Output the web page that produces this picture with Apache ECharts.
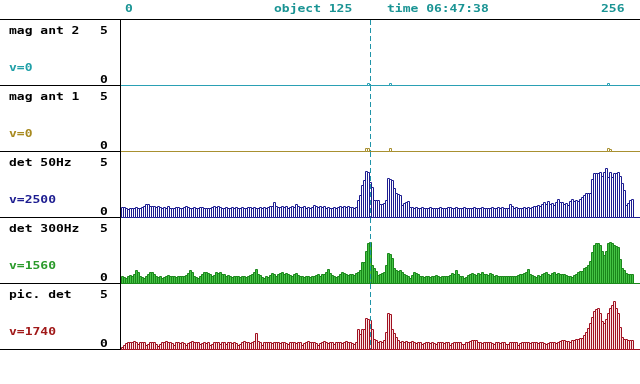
<!DOCTYPE html>
<html>
<head>
<meta charset="utf-8">
<script src="https://cdn.jsdelivr.net/npm/echarts@6/dist/echarts.min.js"></script>
<style>html,body{margin:0;padding:0;background:#fff;}#c{width:640px;height:384px;}</style>
</head>
<body>
<div id="c"></div>
<script>
// ---- data ----
var binCount = 256;
var categories = [];
for (var b = 0; b < binCount; b++) categories.push(String(b));

var headerTexts = ['0', 'object 125', 'time 06:47:38', '256'];
var panelNames = ['mag ant 2', 'mag ant 1', 'det 50Hz', 'det 300Hz', 'pic. det'];
var panelGains = ['v=0', 'v=0', 'v=2500', 'v=1560', 'v=1740'];
var yTickLabels = ['5', '0'];
var markerBin = 124;

// sparse channels: [bin, value]
var magAnt2Peaks = [[123, 0.15], [134, 0.15], [243, 0.15]];
var magAnt1Peaks = [[122, 0.2], [123, 0.2], [134, 0.2], [243, 0.2], [244, 0.15]];

var det50Hz = [
0.75,0.75,0.7,0.6,0.65,0.7,0.7,0.75,0.7,0.65,0.75,0.8,0.95,0.95,0.8,0.8,0.8,0.75,0.8,0.75,
0.7,0.75,0.7,0.8,0.7,0.65,0.7,0.75,0.75,0.7,0.7,0.75,0.8,0.75,0.7,0.7,0.75,0.7,0.7,0.75,
0.75,0.7,0.7,0.7,0.7,0.75,0.8,0.75,0.8,0.75,0.7,0.7,0.75,0.7,0.7,0.75,0.7,0.75,0.7,0.7,
0.75,0.7,0.7,0.75,0.75,0.7,0.75,0.7,0.7,0.75,0.7,0.75,0.7,0.75,0.8,0.8,1.1,0.8,0.75,0.75,
0.8,0.75,0.8,0.7,0.75,0.8,0.75,0.95,0.8,0.75,0.75,0.8,0.7,0.75,0.7,0.75,0.9,0.8,0.75,0.8,
0.75,0.8,0.7,0.75,0.7,0.7,0.75,0.7,0.75,0.8,0.75,0.8,0.75,0.8,0.75,0.75,0.7,0.75,1.3,1.65,
2.4,2.8,3.5,3.4,2.65,2.25,1.3,1.3,1.3,1.0,1.0,1.05,1.3,2.95,2.9,2.8,2.2,1.8,1.75,1.65,
0.9,1.05,1.15,1.2,0.75,0.75,0.7,0.75,0.7,0.7,0.75,0.7,0.7,0.7,0.75,0.7,0.7,0.7,0.7,0.75,
0.7,0.7,0.7,0.75,0.75,0.7,0.7,0.75,0.7,0.7,0.7,0.75,0.7,0.7,0.7,0.7,0.75,0.7,0.7,0.7,
0.75,0.7,0.7,0.7,0.7,0.75,0.7,0.7,0.75,0.7,0.75,0.7,0.7,0.7,1.0,0.8,0.7,0.75,0.7,0.7,
0.7,0.75,0.7,0.75,0.7,0.75,0.8,0.85,0.9,0.8,1.0,1.15,0.95,1.2,1.0,1.05,0.9,1.15,1.35,1.1,
1.15,1.0,1.05,0.9,1.2,1.35,1.2,1.3,1.25,1.35,1.5,1.65,1.8,1.8,1.85,2.9,3.35,3.35,3.35,3.4,
3.1,3.4,3.7,3.0,3.4,3.0,3.35,3.35,3.4,3.1,2.6,2.05,0.9,1.05,1.3,1.35
];

var det300Hz = [
0.5,0.45,0.4,0.55,0.6,0.5,0.7,1.0,0.8,0.55,0.45,0.4,0.55,0.7,0.8,0.8,0.7,0.55,0.45,0.5,
0.4,0.45,0.55,0.6,0.55,0.5,0.5,0.45,0.5,0.5,0.55,0.5,0.6,0.75,1.0,0.8,0.55,0.45,0.35,0.5,
0.7,0.8,0.85,0.75,0.7,0.55,0.6,0.8,0.75,0.8,0.7,0.65,0.55,0.6,0.5,0.45,0.5,0.55,0.5,0.45,
0.5,0.55,0.45,0.5,0.6,0.7,0.8,1.05,0.7,0.6,0.45,0.4,0.5,0.45,0.6,0.75,0.7,0.5,0.65,0.75,
0.8,0.7,0.75,0.7,0.6,0.55,0.65,0.75,0.6,0.5,0.55,0.45,0.5,0.55,0.45,0.5,0.55,0.6,0.7,0.55,
0.65,0.7,0.8,1.05,0.75,0.6,0.5,0.45,0.55,0.7,0.8,0.75,0.7,0.6,0.7,0.65,0.6,0.75,0.85,1.0,
1.6,1.6,2.4,3.0,3.1,1.4,1.1,0.9,0.6,0.65,0.75,0.85,1.35,2.3,2.2,1.9,1.1,1.0,0.9,1.0,
0.8,0.65,0.6,0.5,0.35,0.6,0.8,0.75,0.7,0.55,0.5,0.45,0.55,0.5,0.45,0.5,0.55,0.6,0.5,0.45,
0.5,0.55,0.5,0.55,0.6,0.75,0.7,1.0,0.7,0.55,0.5,0.4,0.45,0.6,0.7,0.75,0.7,0.6,0.75,0.7,
0.8,0.7,0.65,0.6,0.75,0.7,0.55,0.6,0.5,0.55,0.5,0.5,0.55,0.5,0.55,0.5,0.5,0.55,0.6,0.7,
0.65,0.75,0.8,1.05,0.7,0.6,0.5,0.45,0.6,0.5,0.7,0.75,0.8,0.7,0.6,0.75,0.8,0.7,0.75,0.65,
0.7,0.65,0.6,0.5,0.55,0.45,0.6,0.7,0.8,0.9,0.9,1.1,1.25,1.35,1.7,2.35,2.9,3.0,3.0,2.85,
2.45,2.15,2.45,3.0,3.1,3.0,2.9,2.8,2.75,1.85,1.1,1.0,0.75,0.65,0.65,0.65
];

var picDet = [
0.15,0.3,0.45,0.55,0.55,0.5,0.6,0.55,0.4,0.55,0.5,0.5,0.3,0.4,0.5,0.5,0.5,0.35,0.2,0.35,
0.5,0.55,0.6,0.55,0.5,0.45,0.3,0.5,0.5,0.45,0.5,0.45,0.3,0.45,0.55,0.6,0.55,0.5,0.5,0.35,
0.45,0.5,0.45,0.5,0.3,0.4,0.55,0.5,0.5,0.4,0.5,0.55,0.35,0.5,0.5,0.45,0.5,0.45,0.3,0.35,
0.55,0.6,0.55,0.5,0.45,0.5,0.6,1.2,0.6,0.5,0.3,0.5,0.55,0.5,0.5,0.45,0.55,0.55,0.5,0.45,
0.5,0.5,0.45,0.35,0.5,0.5,0.5,0.45,0.55,0.5,0.3,0.45,0.55,0.6,0.55,0.5,0.55,0.45,0.3,0.45,
0.55,0.6,0.55,0.45,0.5,0.5,0.35,0.5,0.55,0.5,0.45,0.5,0.6,0.55,0.55,0.45,0.4,0.5,1.55,1.1,
1.55,1.55,2.35,2.3,2.2,1.55,0.75,0.65,0.55,0.6,0.55,0.7,1.3,2.7,2.65,1.55,1.25,0.9,0.7,0.55,
0.6,0.55,0.6,0.55,0.5,0.6,0.55,0.45,0.55,0.55,0.35,0.45,0.55,0.5,0.45,0.5,0.45,0.35,0.5,0.55,
0.5,0.45,0.5,0.55,0.3,0.45,0.5,0.55,0.5,0.5,0.4,0.35,0.5,0.55,0.6,0.7,0.7,0.65,0.55,0.5,
0.45,0.5,0.55,0.5,0.5,0.45,0.35,0.5,0.5,0.45,0.55,0.5,0.4,0.35,0.5,0.55,0.5,0.5,0.3,0.45,
0.55,0.55,0.5,0.5,0.45,0.5,0.55,0.5,0.45,0.5,0.5,0.45,0.35,0.45,0.55,0.5,0.5,0.45,0.5,0.6,
0.7,0.65,0.6,0.6,0.55,0.65,0.7,0.75,0.75,0.8,0.85,1.05,1.3,1.6,1.95,2.45,2.85,3.0,3.1,2.7,
2.15,1.95,2.3,2.75,3.1,3.35,3.6,3.1,2.7,1.7,0.9,0.75,0.75,0.65,0.65,0.7
];

function fromPeaks(peaks) {
  var arr = [];
  for (var i = 0; i < binCount; i++) arr.push(0);
  peaks.forEach(function (p) { arr[p[0]] = p[1]; });
  return arr;
}
var panelData = [fromPeaks(magAnt2Peaks), fromPeaks(magAnt1Peaks), det50Hz, det300Hz, picDet];

// ---- styles ----
var strokeColors = ['#2aa0b4', '#a89030', '#1c1c90', '#1a861a', '#a01020'];
var fillColors = ['#ffffff', '#ffffff', '#ffffff', '#44c444', '#fbe6e6'];
var gainColors = ['#20a0a8', '#a88a20', '#1c1c90', '#2a9a2a', '#a01818'];
var markerColor = '#1f94a8';
var headerColor = '#1a9494';
var headerX = [125, 274, 387, 601];
var FONT = 'bold 10px "DejaVu Sans Mono"';
var SX = 1.3;

var panelTop0 = 19, panelH = 66, gridLeft = 121, gridRight = 7;

var grids = [], xAxes = [], yAxes = [], series = [], graphics = [];

function makeText(s, x, y, color) {
  return { type: 'text', x: x, y: y, scaleX: SX, silent: true,
    style: { text: s, fill: color, font: FONT, align: 'left', verticalAlign: 'middle' } };
}

function histRenderer(fill, stroke) {
  return function (params, api) {
    var idx = api.value(0), v = api.value(1);
    var base = api.coord([idx, 0]);
    var tp = api.coord([idx, v]);
    var bw = api.size([1, 0])[0];
    var left = Math.round(base[0] - bw / 2) + 0.5;
    var yb = Math.round(base[1]) + 0.5;
    var yt = Math.min(Math.round(tp[1]) + 0.5, yb);
    return { type: 'rect', silent: true,
      shape: { x: left, y: yt, width: bw, height: yb - yt },
      style: { fill: fill, stroke: stroke, lineWidth: 1 } };
  };
}

function markerRenderer(params, api) {
  var idx = api.value(0);
  var p0 = api.coord([idx, 5]);
  var p1 = api.coord([idx, 0]);
  var x = Math.round(p0[0]) + 0.5;
  return { type: 'line', silent: true,
    shape: { x1: x, y1: p0[1] + 1, x2: x, y2: p1[1] },
    style: { stroke: markerColor, lineWidth: 1, lineDash: [5, 3] } };
}

headerTexts.forEach(function (t, i) { graphics.push(makeText(t, headerX[i], 9, headerColor)); });
graphics.push({ type: 'line', silent: true, shape: { x1: 0, y1: 19.5, x2: 640, y2: 19.5 }, style: { stroke: '#000', lineWidth: 1 } });
graphics.push({ type: 'line', silent: true, shape: { x1: 120.5, y1: 19, x2: 120.5, y2: 350 }, style: { stroke: '#000', lineWidth: 1 } });

for (var k = 0; k < 5; k++) {
  var pTop = panelTop0 + panelH * k;
  grids.push({ left: gridLeft, right: gridRight, top: pTop, height: panelH });
  xAxes.push({ type: 'category', gridIndex: k, data: categories, boundaryGap: true,
    axisLine: { show: false }, axisTick: { show: false }, axisLabel: { show: false }, splitLine: { show: false } });
  yAxes.push({ type: 'value', gridIndex: k, min: 0, max: 5, show: false });
  var pts = panelData[k].map(function (v, i) { return [i, v]; });
  series.push({
    type: 'custom', xAxisIndex: k, yAxisIndex: k, data: pts, encode: { x: 0, y: 1 },
    renderItem: histRenderer(fillColors[k], strokeColors[k]), silent: true, clip: false
  });
  series.push({
    type: 'custom', xAxisIndex: k, yAxisIndex: k, data: [[markerBin, 0]], encode: { x: 0, y: 1 },
    renderItem: markerRenderer, silent: true, z: 5
  });
  // baseline row in the panel colour across the plot, black under the labels
  graphics.push({ type: 'line', silent: true, z: -1, shape: { x1: 121, y1: pTop + panelH + 0.5, x2: 640, y2: pTop + panelH + 0.5 }, style: { stroke: strokeColors[k], lineWidth: 1 } });
  graphics.push({ type: 'line', silent: true, shape: { x1: 0, y1: pTop + panelH + 0.5, x2: 121, y2: pTop + panelH + 0.5 }, style: { stroke: '#000', lineWidth: 1 } });
  graphics.push(makeText(panelNames[k], 9, 31 + panelH * k, '#000'));
  graphics.push(makeText(yTickLabels[0], 100, 31 + panelH * k, '#000'));
  graphics.push(makeText(panelGains[k], 9, 68 + panelH * k, gainColors[k]));
  graphics.push(makeText(yTickLabels[1], 100, 80 + panelH * k, '#000'));
}

var chart = echarts.init(document.getElementById('c'), null, { renderer: 'canvas' });
chart.setOption({
  animation: false,
  backgroundColor: '#ffffff',
  grid: grids, xAxis: xAxes, yAxis: yAxes, series: series,
  graphic: { elements: graphics }
});
</script>
</body>
</html>
